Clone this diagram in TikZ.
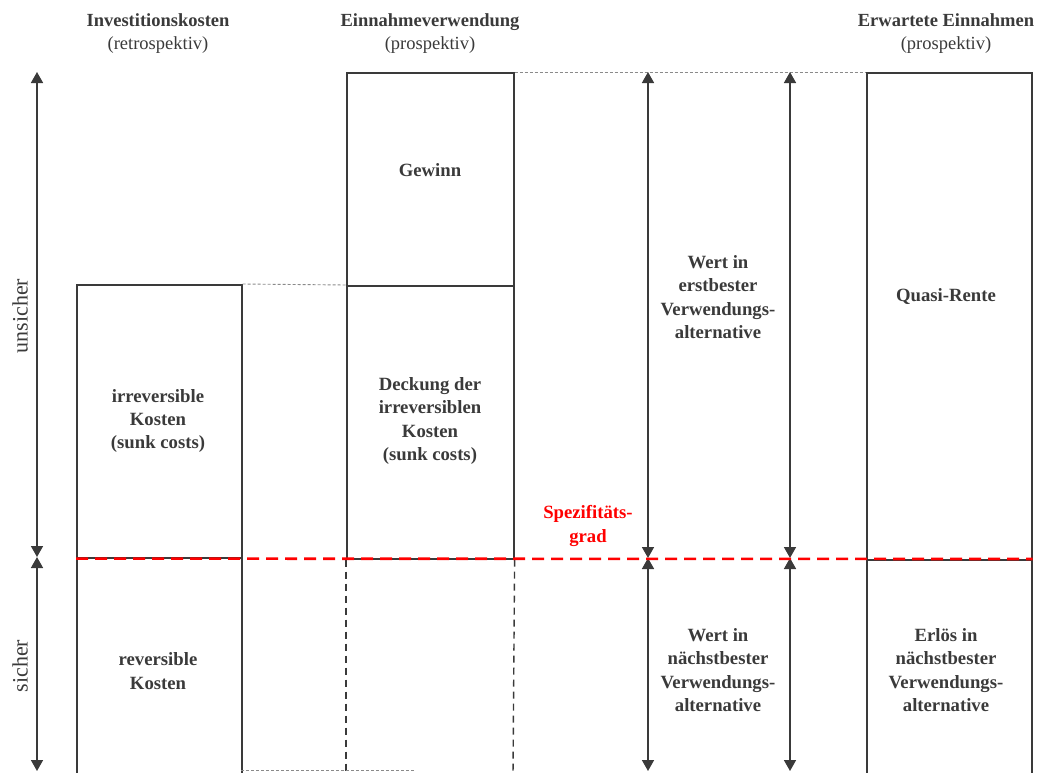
\documentclass[tikz,border=0pt]{standalone}
\usepackage{fontspec}
\setmainfont{Liberation Serif}
\usetikzlibrary{arrows.meta}
\definecolor{ink}{HTML}{3A3A3A}
\definecolor{guidegray}{HTML}{8A8A8A}
\begin{document}
\begin{tikzpicture}[x=1pt,y=-1pt,
  box/.style={draw=ink, line width=1.6pt, inner sep=0pt, anchor=north west},
  lbl/.style={font=\fontsize{18.7}{23.3}\selectfont\bfseries, text=ink, align=center},
  head/.style={font=\fontsize{18.5}{23}\selectfont, text=ink, align=center},
  side/.style={font=\fontsize{22}{24}\selectfont, text=ink, rotate=90},
  span/.style={draw=ink, line width=1.6pt, {Triangle[length=11pt,width=12pt]}-{Triangle[length=11pt,width=12pt]}},
  guide/.style={draw=guidegray, line width=0.9pt, dash pattern=on 3pt off 2pt},
  ext/.style={draw=ink, line width=1.4pt, dash pattern=on 7pt off 5pt},
  spec/.style={draw=red, line width=2.6pt, dash pattern=on 12pt off 7pt}]
\useasboundingbox (0,0) rectangle (1041,772);
\clip (0,0) rectangle (1041,772);

% column headings
\node[head] (h1) at (158,34) {\textbf{Investitionskosten}\\(retrospektiv)};
\node[head] (h2) at (430,34) {\textbf{Einnahmeverwendung}\\(prospektiv)};
\node[head] (h3) at (946,34) {\textbf{Erwartete Einnahmen}\\(prospektiv)};

% investment costs
\node[box, minimum width=165pt, minimum height=273pt] (irr) at (76,284) {};
\node[box, minimum width=165pt, minimum height=222pt] (rev) at (76,557) {};

% use of revenue
\node[box, minimum width=167pt, minimum height=213pt] (gew) at (346,72) {};
\node[box, minimum width=167pt, minimum height=273pt] (deck) at (346,285) {};

% expected revenue
\node[box, minimum width=165pt, minimum height=487pt] (quasi) at (866,72) {};
\node[box, minimum width=165pt, minimum height=222pt] (erl) at (866,559) {};

% continuation of the middle column below the threshold
\coordinate (mbl) at (346,775);
\coordinate (mbr) at (513,775);
\draw[ext] (deck.south west) -- (mbl);
\draw[ext] (deck.south east) -- (mbr);

% thin guide lines between the columns
\draw[guide] (irr.north east) -- (deck.north west);
\draw[guide] (gew.north east) -- (quasi.north west);
\coordinate (gb) at (415,770.5);
\coordinate (rb) at (241,770.5);
\draw[guide] (rb) -- (gb);

% box labels
\node[lbl] (t1) at (430,170) {Gewinn};
\node[lbl] (t2) at (158,421) {irreversible\\Kosten\\(sunk costs)};
\node[lbl] (t3) at (158,671) {reversible\\Kosten};
\node[lbl] (t4) at (430,421) {Deckung der\\irreversiblen\\Kosten\\(sunk costs)};
\node[lbl] (t5) at (718,297) {Wert in\\erstbester\\Verwendungs-\\alternative};
\node[lbl] (t6) at (718,670) {Wert in\\nächstbester\\Verwendungs-\\alternative};
\node[lbl] (t7) at (946,297) {Quasi-Rente};
\node[lbl] (t8) at (946,670) {Erlös in\\nächstbester\\Verwendungs-\\alternative};
\node[lbl, text=red] (t9) at (588,526) {Spezifitäts-\\grad};

% vertical ranges
\coordinate (a0) at (37,72);
\coordinate (a1) at (37,557);
\coordinate (a2) at (37,771);
\coordinate (b0) at (648,72);
\coordinate (b1) at (648,558);
\coordinate (b2) at (648,771);
\coordinate (c0) at (790,72);
\coordinate (c1) at (790,558);
\coordinate (c2) at (790,771);
\draw[span] (a0) -- (a1);
\draw[span] (a1) -- (a2);
\draw[span] (b0) -- (b1);
\draw[span] (b1) -- (b2);
\draw[span] (c0) -- (c1);
\draw[span] (c1) -- (c2);

\node[side] (s1) at (20,316) {unsicher};
\node[side] (s2) at (20,666) {sicher};

% degree of specificity
\draw[spec] (irr.south west) -- (erl.north east);
\end{tikzpicture}
\end{document}
